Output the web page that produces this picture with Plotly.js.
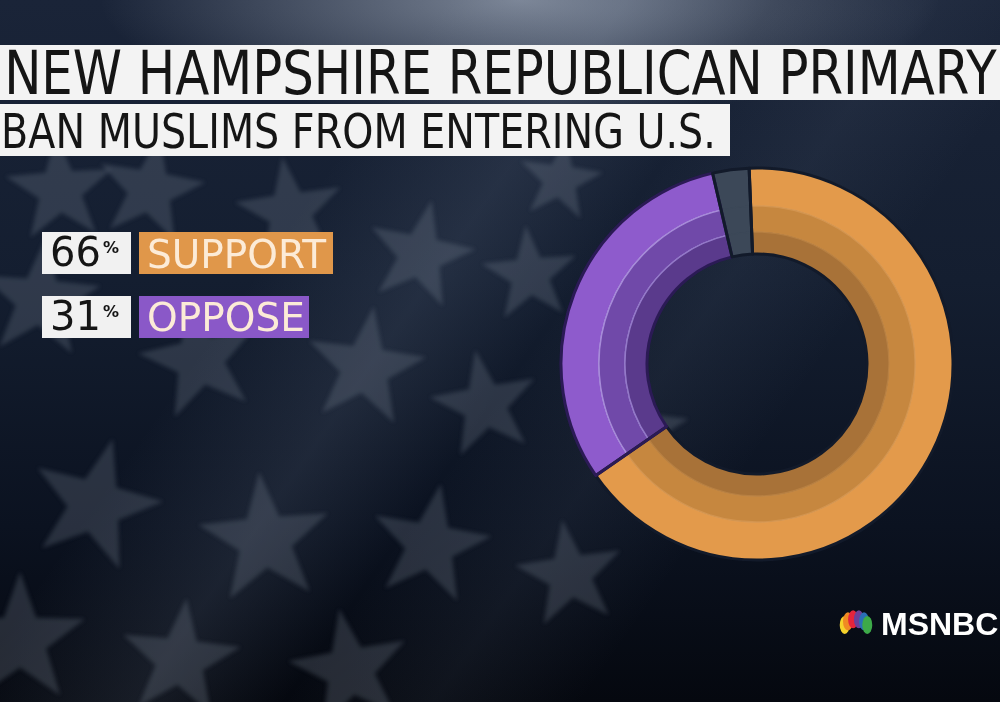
<!DOCTYPE html>
<html>
<head>
<meta charset="utf-8">
<script src="https://cdn.plot.ly/plotly-3.0.1.min.js"></script>
<style>
  html, body { margin:0; padding:0; width:1000px; height:702px; overflow:hidden; }
  body {
    background:
      radial-gradient(ellipse 420px 120px at 520px 0px, rgba(200,210,225,0.55), rgba(0,0,0,0) 100%),
      linear-gradient(125deg, rgba(0,0,0,0) 30%, rgba(120,135,160,0.16) 42%, rgba(0,0,0,0) 52%, rgba(120,135,160,0.09) 62%, rgba(0,0,0,0) 72%),
      linear-gradient(180deg, #1a2438 0%, #141e30 40%, #0b1220 75%, #05080f 100%);
  }
  #stars { position:absolute; left:0; top:0; width:1000px; height:702px; }
  #chart { position:absolute; left:0; top:0; width:1000px; height:702px; }
</style>
</head>
<body>
<svg id="stars" width="1000" height="702"><defs><filter id="bl"><feGaussianBlur stdDeviation="2"/></filter></defs><g id="sg" filter="url(#bl)"></g></svg>
<div id="chart"></div>
<script>
// ---- data ----
const titleLine1 = "NEW HAMPSHIRE REPUBLICAN PRIMARY";
const titleLine2 = "BAN MUSLIMS FROM ENTERING U.S.";
const categories = ["SUPPORT", "OPPOSE", "OTHER"];
const values = [66, 31, 3];
const legendCategories = ["SUPPORT", "OPPOSE"];
const legendValues = [66, 31];
const brand = "MSNBC";

// ---- styles ----
const ringColors = [
  ["#E39A4B", "#8E5BCC", "#3C4858"],   // outer
  ["#C6873F", "#7049A9", "#3C4858"],   // middle
  ["#A87238", "#5A3A8C", "#3C4858"]    // inner
];
const ringLines = [
  ["#EAA662", "#B79FE4", "#3C4858"],
  ["#D39550", "#A68BD8", "#3C4858"],
  ["#B88042", "#9379C8", "#3C4858"]
];
const sliceEdge = ["#121a2a", "#2B1A55", "#121a2a"];
const legendColors = ["#E0974A", "#8A58C8"];

// decorative background stars
(function(){
  const g = document.getElementById('sg');
  const pts = [[150,190,0.9,10],[290,212,0.9,-8],[420,255,0.9,12],[530,275,0.8,-5],[40,300,1,5],
               [200,360,1,-12],[365,368,1,8],[485,405,0.9,-10],[95,505,1.1,15],[265,540,1.1,-5],
               [430,545,1,10],[570,575,0.9,-8],[20,640,1.1,0],[180,660,1,6],[350,670,1,-10],
               [640,430,0.8,5],[560,180,0.7,8],[60,190,0.9,-4]];
  let html = '';
  pts.forEach(p => {
    const [cx, cy, s, rot] = p;
    let d = '';
    for (let i = 0; i < 10; i++) {
      const r = (i % 2 === 0 ? 62 : 25) * s;
      const a = -Math.PI/2 + i * Math.PI/5;
      d += (i === 0 ? 'M' : 'L') + (cx + r*Math.cos(a)).toFixed(1) + ',' + (cy + r*Math.sin(a)).toFixed(1);
    }
    html += `<path d="${d}Z" fill="#8a93a3" fill-opacity="0.24" transform="rotate(${rot} ${cx} ${cy})"/>`;
  });
  g.innerHTML = html;
})();

const W = 1000, H = 702;
const cx = 757, cy = 364;
const radii = [196, 158, 132, 110];

function domainFor(r) {
  return {
    x: [(cx - r) / W, (cx + r) / W],
    y: [(H - cy - r) / H, (H - cy + r) / H]
  };
}

const pieBase = {
  type: 'pie', labels: categories, values: values, sort: false,
  direction: 'clockwise', rotation: -2.3, textinfo: 'none',
  hoverinfo: 'label+value', showlegend: false
};

const traces = [0, 1, 2].map(i => Object.assign({}, pieBase, {
  hole: radii[i + 1] / radii[i],
  domain: domainFor(radii[i]),
  marker: { colors: ringColors[i], line: { color: ringLines[i], width: 1.4 } }
}));
// slice separators across all rings
traces.push(Object.assign({}, pieBase, {
  hole: radii[3] / radii[0],
  domain: domainFor(radii[0]),
  marker: { colors: categories.map(() => 'rgba(0,0,0,0)'), line: { color: sliceEdge, width: 3 } }
}));

const shapes = [];
const annotations = [];

// title banners
shapes.push({ type:'rect', xref:'paper', yref:'paper', x0:0, x1:1, y0:1-100/H, y1:1-45/H,
  fillcolor:'#F3F3F3', line:{width:0} });
shapes.push({ type:'rect', xref:'paper', yref:'paper', x0:0, x1:730/W, y0:1-156/H, y1:1-104/H,
  fillcolor:'#F3F3F3', line:{width:0} });
annotations.push({ text:titleLine1, xref:'paper', yref:'paper', x:0, y:1-73/H, xanchor:'left', yanchor:'middle',
  showarrow:false, font:{ family:'DejaVu Sans, sans-serif', size:60, color:'#151515' } });
annotations.push({ text:titleLine2, xref:'paper', yref:'paper', x:0, y:1-131/H, xanchor:'left', yanchor:'middle',
  showarrow:false, font:{ family:'DejaVu Sans, sans-serif', size:48, color:'#151515' } });
const squeeze = [[0, 4, 997], [1, 1, 716]];

// legend boxes
const legendTop = [232, 296];
const labelW = [194, 170];
legendCategories.forEach((c, i) => {
  const t = legendTop[i], b = t + 42;
  shapes.push({ type:'rect', xref:'paper', yref:'paper', x0:42/W, x1:131/W, y0:1-b/H, y1:1-t/H,
    fillcolor:'#F1F1F1', line:{width:0} });
  shapes.push({ type:'rect', xref:'paper', yref:'paper', x0:139/W, x1:(139+labelW[i])/W, y0:1-b/H, y1:1-t/H,
    fillcolor:legendColors[i], line:{width:0} });
  annotations.push({ text: String(legendValues[i]),
    xref:'paper', yref:'paper', x:48/W, y:1-(t+20)/H, xanchor:'left', yanchor:'middle', showarrow:false,
    font:{ family:'DejaVu Sans, sans-serif', size:40, color:'#151515' } });
  annotations.push({ text: '%',
    xref:'paper', yref:'paper', x:101/W, y:1-(t+15)/H, xanchor:'left', yanchor:'middle', showarrow:false,
    font:{ family:'DejaVu Sans, sans-serif', size:16, weight:'bold', color:'#151515' } });
  annotations.push({ text: c, xref:'paper', yref:'paper', x:145/W, y:1-(t+22)/H, xanchor:'left', yanchor:'middle', showarrow:false,
    font:{ family:'DejaVu Sans, sans-serif', size:39, color:'#FCEBD7' } });
});

// brand
annotations.push({ text:'<b>' + brand + '</b>', xref:'paper', yref:'paper', x:1000/W, y:1-624/H, xanchor:'right', yanchor:'middle',
  showarrow:false, font:{ family:'Liberation Sans, Arial, sans-serif', size:32, color:'#FFFFFF' } });
// peacock (decorative)
const feathers = ['#F5D22B','#F08A23','#E5243B','#6C3F99','#2A6FB7','#3DAA49'];
feathers.forEach((col, k) => {
  const ang = (-70 + k * 28) * Math.PI / 180;
  const fx = 856 + 12 * Math.sin(ang), fy = 628 - 9 * Math.cos(ang);
  shapes.push({ type:'circle', xref:'paper', yref:'paper', x0:(fx-5)/W, x1:(fx+5)/W, y0:1-(fy+9)/H, y1:1-(fy-9)/H,
    fillcolor:col, line:{width:0} });
});

Plotly.newPlot('chart', traces, {
  width: W, height: H,
  margin: { l:0, r:0, t:0, b:0 },
  paper_bgcolor: 'rgba(0,0,0,0)',
  plot_bgcolor: 'rgba(0,0,0,0)',
  shapes, annotations
}, { displayModeBar:false, staticPlot:true }).then(gd => {
  // horizontally condense the banner titles to mimic the narrow broadcast face
  const anns = gd.querySelectorAll('.annotation');
  squeeze.forEach(([idx, left, right]) => {
    const t = anns[idx].querySelector('text');
    const bb = t.getBBox();
    const s = (right - left) / bb.width;
    const ctm = t.getScreenCTM();
    const screenLeft = bb.x * ctm.a + ctm.e;
    const shift = (left - screenLeft) / ctm.a;
    t.setAttribute('transform', `translate(${bb.x + shift},0) scale(${s},1) translate(${-bb.x},0)`);
  });
});
</script>
</body>
</html>
